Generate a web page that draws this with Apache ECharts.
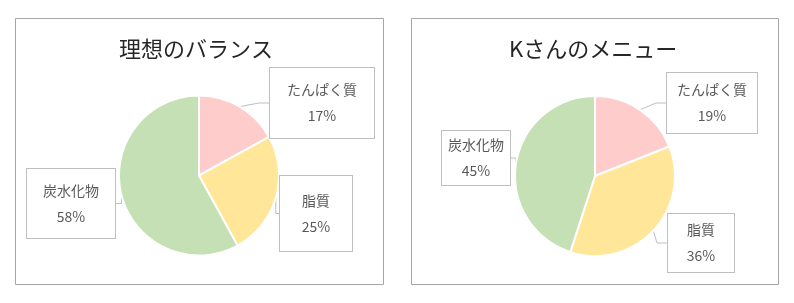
<!DOCTYPE html>
<html><head><meta charset="utf-8">
<script src="https://cdn.jsdelivr.net/npm/echarts@6/dist/echarts.min.js"></script>
<style>html,body{margin:0;padding:0;background:#fff}#c{width:794px;height:303px}</style>
</head><body><div id="c"></div>
<script>
// ---- data ----
const categories = ['たんぱく質', '脂質', '炭水化物'];
const idealValues = [17, 25, 58];
const kMenuValues = [19, 36, 45];
const chartTitles = ['理想のバランス', 'Kさんのメニュー'];

// ---- styles ----
const colors = ['#FFCCCC', '#FFE699', '#C5E0B4'];
const FONT = '"Noto Sans CJK JP", "Noto Sans", sans-serif';
// label box layout per panel/category: center x,y and box size
const labelBoxes = [
  [ {x:322, y:103, w:104, h:70}, {x:316, y:213.5, w:72, h:75}, {x:71, y:203.5, w:88, h:69} ],
  [ {x:712, y:103, w:90, h:60}, {x:701, y:243, w:66, h:58}, {x:476, y:158, w:68, h:54} ]
];
const pieCenters = [[199, 175.5], [595, 176]];
const panels = [{x:15.5, y:18.5, w:368, h:266}, {x:411.5, y:18.5, w:367, h:266}];

function makeSeries(idx, values) {
  const boxes = labelBoxes[idx];
  return {
    type: 'pie',
    radius: 80,
    center: pieCenters[idx],
    startAngle: 90,
    clockwise: true,
    animation: false,
    silent: true,
    itemStyle: { borderColor: '#fff', borderWidth: 2 },
    data: categories.map((c, i) => ({
      name: c, value: values[i],
      itemStyle: { color: colors[i] },
      label: {
        width: boxes[i].w - 4,
        overflow: 'none',
        padding: [(boxes[i].h - 52) / 2, 2]
      }
    })),
    label: {
      show: true,
      position: 'outside',
      formatter: '{b}\n{d}%',
      fontFamily: FONT,
      fontSize: 14,
      lineHeight: 26,
      color: '#595959',
      align: 'center',
      backgroundColor: '#fff',
      borderColor: '#BFBFBF',
      borderWidth: 1
    },
    labelLine: { show: true, length: 10, length2: 10, lineStyle: { color: '#BFBFBF', width: 1 } },
    labelLayout: function (p) {
      const b = boxes[p.dataIndex];
      return { x: b.x, y: b.y, align: 'center', verticalAlign: 'middle' };
    }
  };
}

const chart = echarts.init(document.getElementById('c'), null, { renderer: 'canvas' });
chart.setOption({
  backgroundColor: '#fff',
  animation: false,
  title: [
    { text: chartTitles[0], left: 114, top: 33, textStyle: { fontFamily: FONT, fontSize: 22, fontWeight: 'normal', color: '#262626' } },
    { text: chartTitles[1], left: 504, top: 33, textStyle: { fontFamily: FONT, fontSize: 22, fontWeight: 'normal', color: '#262626' } }
  ],
  graphic: panels.map(p => ({
    type: 'rect', silent: true, z: -10,
    shape: { x: p.x, y: p.y, width: p.w, height: p.h },
    style: { fill: '#fff', stroke: '#A6A6A6', lineWidth: 1 }
  })),
  series: [makeSeries(0, idealValues), makeSeries(1, kMenuValues)]
});
</script></body></html>
